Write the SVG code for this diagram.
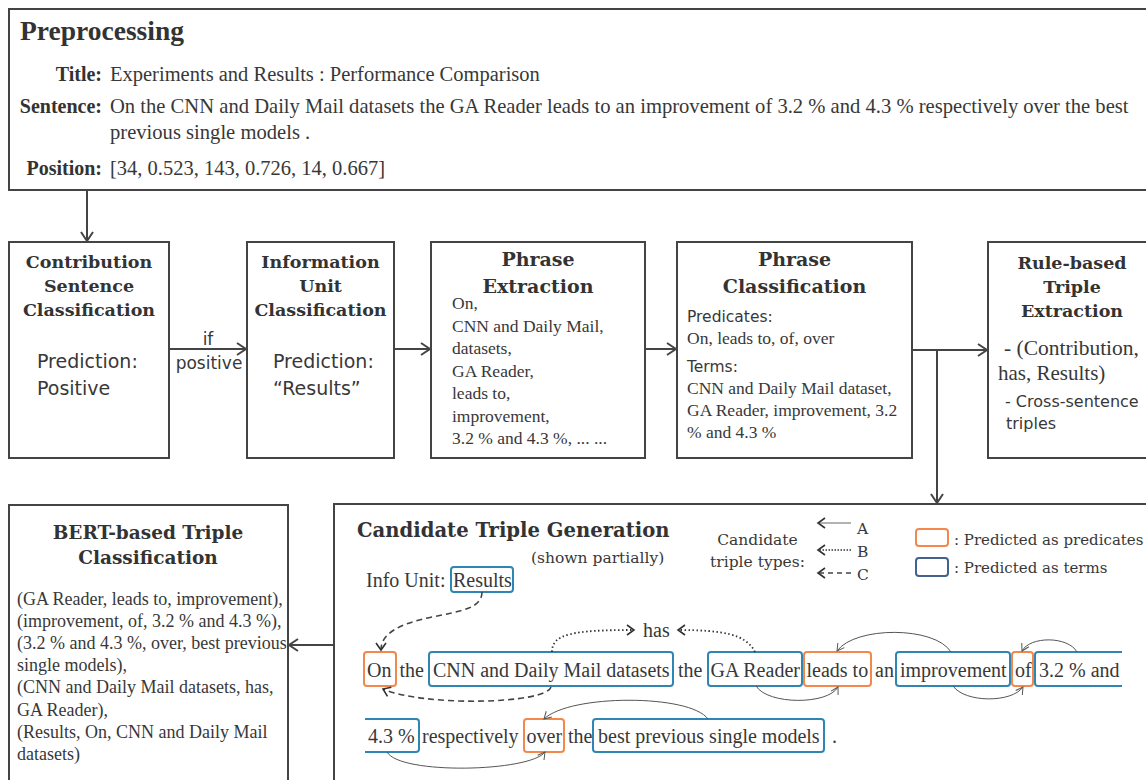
<svg xmlns="http://www.w3.org/2000/svg" width="1146" height="780" viewBox="0 0 1146 780">
<style>
.box{fill:#fff;stroke:#444;stroke-width:2}
.conn{fill:none;stroke:#444;stroke-width:2}
.h{font-family:"DejaVu Serif",serif;font-weight:bold;fill:#333}
.tr{font-family:"Liberation Serif",serif;fill:#383838}
.tb{font-family:"Liberation Serif",serif;font-weight:bold;fill:#333}
.sans{font-family:"DejaVu Sans",sans-serif;fill:#383838}
.ser{font-family:"DejaVu Serif",serif;fill:#383838}
.pred{fill:none;stroke:#f4874b;stroke-width:2}
.term{fill:none;stroke:#2f86b3;stroke-width:2}
.arc{fill:none;stroke:#555;stroke-width:1}
.dash{fill:none;stroke:#444;stroke-width:1.6;stroke-dasharray:6 4}
.dot{fill:none;stroke:#333;stroke-width:1.8;stroke-dasharray:1.5 2.5}
</style>
<defs>
<marker id="ah" markerWidth="12" markerHeight="14" refX="10" refY="7" orient="auto" markerUnits="userSpaceOnUse"><path d="M1,1 L10,7 L1,13" fill="none" stroke="#444" stroke-width="2"/></marker>
<marker id="as" markerWidth="10" markerHeight="10" refX="8" refY="5" orient="auto" markerUnits="userSpaceOnUse"><path d="M1,1 L8,5 L1,9" fill="none" stroke="#555" stroke-width="1"/></marker>
<marker id="am" markerWidth="10" markerHeight="12" refX="8" refY="6" orient="auto" markerUnits="userSpaceOnUse"><path d="M1,1 L8,6 L1,11" fill="none" stroke="#333" stroke-width="1.6"/></marker>
</defs>
<rect width="1146" height="780" fill="#fff"/>

<g id="preprocessing">
<rect class="box" x="9" y="9" width="1150" height="181"/>
<text class="tb" x="20" y="40" font-size="27.5">Preprocessing</text>
<text class="tb" x="102" y="81" font-size="20" text-anchor="end">Title:</text>
<text class="tr" x="110" y="81" font-size="20.5">Experiments and Results : Performance Comparison</text>
<text class="tb" x="102" y="113" font-size="20" text-anchor="end">Sentence:</text>
<text class="tr" x="110" y="113" font-size="20.6">On the CNN and Daily Mail datasets the GA Reader leads to an improvement of 3.2 % and 4.3 % respectively over the best</text>
<text class="tr" x="110" y="139" font-size="20.6">previous single models .</text>
<text class="tb" x="102" y="175" font-size="20" text-anchor="end">Position:</text>
<text class="tr" x="110" y="175" font-size="20.5">[34, 0.523, 143, 0.726, 14, 0.667]</text>
</g>

<g id="contribution-sentence-classification">
<rect class="box" x="9" y="242" width="160" height="216"/>
<text class="h" x="89" y="268" font-size="17.5" text-anchor="middle">Contribution</text>
<text class="h" x="89" y="292" font-size="17.5" text-anchor="middle">Sentence</text>
<text class="h" x="89" y="316" font-size="17.5" text-anchor="middle">Classification</text>
<text class="sans" x="37" y="368" font-size="19">Prediction:</text>
<text class="sans" x="37" y="395" font-size="19">Positive</text>
</g>

<g id="information-unit-classification">
<rect class="box" x="247" y="242" width="147" height="216"/>
<text class="h" x="320.5" y="268" font-size="17.5" text-anchor="middle">Information</text>
<text class="h" x="320.5" y="292" font-size="17.5" text-anchor="middle">Unit</text>
<text class="h" x="320.5" y="316" font-size="17.5" text-anchor="middle">Classification</text>
<text class="sans" x="273" y="368" font-size="19">Prediction:</text>
<text class="sans" x="273" y="395" font-size="19">“Results”</text>
</g>

<g id="phrase-extraction">
<rect class="box" x="431" y="242" width="214" height="216"/>
<text class="h" x="538" y="266" font-size="19" text-anchor="middle">Phrase</text>
<text class="h" x="538" y="293" font-size="19" text-anchor="middle">Extraction</text>
<text class="tr" x="452" font-size="17.5"><tspan x="452" y="309">On,</tspan><tspan x="452" y="331.5">CNN and Daily Mail,</tspan><tspan x="452" y="354">datasets,</tspan><tspan x="452" y="376.5">GA Reader,</tspan><tspan x="452" y="399">leads to,</tspan><tspan x="452" y="421.5">improvement,</tspan><tspan x="452" y="444">3.2 % and 4.3 %, ... ...</tspan></text>
</g>

<g id="phrase-classification">
<rect class="box" x="677" y="242" width="235" height="216"/>
<text class="h" x="794.5" y="266" font-size="19" text-anchor="middle">Phrase</text>
<text class="h" x="794.5" y="293" font-size="19" text-anchor="middle">Classification</text>
<text class="sans" x="687" y="322" font-size="15.5">Predicates:</text>
<text class="tr" x="687" y="344" font-size="17.5">On, leads to, of, over</text>
<text class="sans" x="687" y="372" font-size="15.5">Terms:</text>
<text class="tr" x="687" y="394" font-size="17.5">CNN and Daily Mail dataset,</text>
<text class="tr" x="687" y="416" font-size="17.5">GA Reader, improvement, 3.2</text>
<text class="tr" x="687" y="438" font-size="17.5">% and 4.3 %</text>
</g>

<g id="rule-based-triple-extraction">
<rect class="box" x="988" y="242" width="170" height="216"/>
<text class="h" x="1072" y="269" font-size="17.5" text-anchor="middle">Rule-based</text>
<text class="h" x="1072" y="293" font-size="17.5" text-anchor="middle">Triple</text>
<text class="h" x="1072" y="317" font-size="17.5" text-anchor="middle">Extraction</text>
<text class="tr" x="1004" y="355" font-size="21.5">- (Contribution,</text>
<text class="tr" x="998" y="380" font-size="21">has, Results)</text>
<text class="sans" x="1005" y="407" font-size="16">- Cross-sentence</text>
<text class="sans" x="1006" y="429" font-size="16">triples</text>
</g>

<g id="bert-based-triple-classification">
<rect class="box" x="9" y="505" width="279" height="290"/>
<text class="h" x="148" y="539" font-size="18.5" text-anchor="middle">BERT-based Triple</text>
<text class="h" x="148" y="564" font-size="18.5" text-anchor="middle">Classification</text>
<text class="tr" font-size="18"><tspan x="17" y="605">(GA Reader, leads to, improvement),</tspan><tspan x="17" y="627.1">(improvement, of, 3.2 % and 4.3 %),</tspan><tspan x="17" y="649.2">(3.2 % and 4.3 %, over, best previous</tspan><tspan x="17" y="671.3">single models),</tspan><tspan x="17" y="693.4">(CNN and Daily Mail datasets, has,</tspan><tspan x="17" y="715.5">GA Reader),</tspan><tspan x="17" y="737.6">(Results, On, CNN and Daily Mail</tspan><tspan x="17" y="759.7">datasets)</tspan></text>
</g>

<g id="candidate-triple-generation">
<rect class="box" x="334" y="504" width="830" height="290"/>
<text class="h" x="357" y="537" font-size="19.6">Candidate Triple Generation</text>
<text class="ser" x="531" y="563" font-size="15.5">(shown partially)</text>
<text class="tr" x="366" y="587" font-size="20">Info Unit:</text>
<rect class="term" x="451" y="567" width="62" height="25" rx="3"/>
<text class="tr" x="453" y="587" font-size="20">Results</text>

<g id="legend">
<text class="ser" x="757.5" y="545" font-size="15.5" text-anchor="middle">Candidate</text>
<text class="ser" x="757.5" y="567" font-size="15.5" text-anchor="middle">triple types:</text>
<path d="M851,523 H818" fill="none" stroke="#666" stroke-width="1.2" marker-end="url(#am)"/>
<path d="M851,550 H818" fill="none" stroke="#333" stroke-width="1.5" stroke-dasharray="1.5 1.5" marker-end="url(#am)"/>
<path d="M851,573 H818" fill="none" stroke="#444" stroke-width="1.5" stroke-dasharray="5 4" marker-end="url(#am)"/>
<text class="ser" x="857" y="534" font-size="15.5">A</text>
<text class="ser" x="857" y="557" font-size="15.5">B</text>
<text class="ser" x="857" y="580" font-size="15.5">C</text>
<rect x="916" y="529" width="32" height="17" rx="3" fill="none" stroke="#f4874b" stroke-width="2"/>
<text class="ser" x="954" y="545" font-size="15">: Predicted as predicates</text>
<rect x="916" y="558" width="32" height="18" rx="3" fill="none" stroke="#44628e" stroke-width="2"/>
<text class="ser" x="954" y="573" font-size="15">: Predicted as terms</text>
</g>

<g id="sentence">
<rect class="pred" x="364" y="652" width="32" height="34" rx="3"/>
<rect class="term" x="429" y="652" width="244" height="34" rx="3"/>
<rect class="term" x="708" y="652" width="94" height="34" rx="3"/>
<rect class="pred" x="804" y="652" width="67" height="34" rx="3"/>
<rect class="term" x="896" y="652" width="114" height="34" rx="3"/>
<rect class="pred" x="1012" y="652" width="21" height="34" rx="3"/>
<path class="term" d="M1122,652 H1038 Q1035,652 1035,655 V683 Q1035,686 1038,686 H1122"/>
<g class="tr" font-size="20">
<text x="367" y="677">On</text>
<text x="399.5" y="677">the</text>
<text x="433" y="677">CNN and Daily Mail datasets</text>
<text x="678" y="677">the</text>
<text x="710.5" y="677">GA Reader</text>
<text x="806.5" y="677">leads to</text>
<text x="875" y="677">an</text>
<text x="900" y="677">improvement</text>
<text x="1015" y="677">of</text>
<text x="1039" y="677">3.2 % and</text>
<text x="643" y="637">has</text>
</g>
<path class="term" d="M365,719 H416 Q419,719 419,722 V749 Q419,752 416,752 H365"/>
<rect class="pred" x="524" y="719" width="40" height="33" rx="3"/>
<rect class="term" x="593" y="719" width="231" height="33" rx="3"/>
<g class="tr" font-size="20">
<text x="368" y="743">4.3 %</text>
<text x="422" y="743">respectively</text>
<text x="526.5" y="743">over</text>
<text x="568" y="743">the</text>
<text x="598" y="743">best previous single models</text>
<text x="832" y="743">.</text>
</g>
</g>
</g>

<g id="connectors">
<path class="conn" d="M87,190 V241" marker-end="url(#ah)"/>
<path class="conn" d="M169,349 H246" marker-end="url(#ah)"/>
<path class="conn" d="M394,349 H430" marker-end="url(#ah)"/>
<path class="conn" d="M645,349 H676" marker-end="url(#ah)"/>
<path class="conn" d="M912,350 H987" marker-end="url(#ah)"/>
<path class="conn" d="M937,350 V503" marker-end="url(#ah)"/>
<path class="conn" d="M334,645 H289" marker-end="url(#ah)"/>
<text class="sans" x="208" y="345" font-size="17" text-anchor="middle">if</text>
<text class="sans" x="209" y="369" font-size="17" text-anchor="middle">positive</text>

<path class="dash" d="M482,592 C482,608 462,611 432,617 C398,624 381,634 381,650" marker-end="url(#am)"/>
<path class="dash" d="M551,687 C546,704 425,707 383,689" marker-end="url(#am)"/>
<path class="dot" d="M552,652 C552,634 572,630 634,630" marker-end="url(#am)"/>
<path class="dot" d="M755,652 C746,634 722,630 678,630" marker-end="url(#am)"/>
<path class="arc" d="M951,652 C935,626 855,626 837,651" marker-end="url(#as)"/>
<path class="arc" d="M756,686 C768,705 828,705 838,687" marker-end="url(#as)"/>
<path class="arc" d="M953,686 C965,703 1012,703 1023,687" marker-end="url(#as)"/>
<path class="arc" d="M1077,652 C1068,636 1030,636 1022,651" marker-end="url(#as)"/>
<path class="arc" d="M708,719 C690,694 570,694 544,719" marker-end="url(#as)"/>
<path class="arc" d="M387,752 C400,775 530,772 545,752" marker-end="url(#as)"/>
</g>
</svg>
